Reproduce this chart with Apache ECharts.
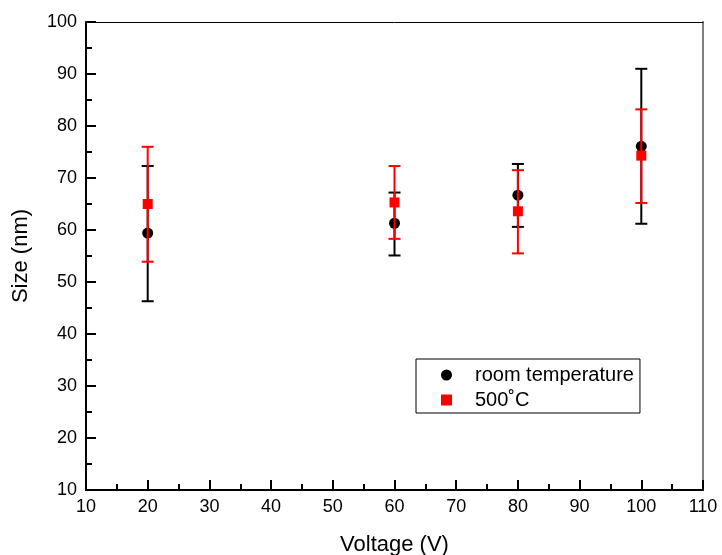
<!DOCTYPE html>
<html>
<head>
<meta charset="utf-8">
<script src="https://cdn.jsdelivr.net/npm/echarts@6/dist/echarts.min.js"></script>
<style>html,body{margin:0;padding:0;background:#fff;}#c{width:722px;height:555px;}</style>
</head>
<body>
<div id="c"></div>
<script>
var voltages = [20, 60, 80, 100];
var rtSize = [59.4, 61.3, 66.7, 76.1];
var rtLow  = [46.3, 55.1, 60.6, 61.2];
var rtHigh = [72.3, 67.2, 72.7, 91.0];
var hotSize = [65.0, 65.3, 63.6, 74.3];
var hotLow  = [53.9, 58.3, 55.5, 65.2];
var hotHigh = [76.0, 72.3, 71.5, 83.2];
var seriesNames = ['room temperature', '500\u02daC'];
var xTicks = [10, 110, 10];
var yTicks = [10, 100, 10];

var font = 'Liberation Sans, Arial, sans-serif';

function pts(xs, ys) { return xs.map(function (x, i) { return [x, ys[i]]; }); }
function errs(xs, lo, hi) { return xs.map(function (x, i) { return [x, lo[i], hi[i]]; }); }

function errRender(color) {
  return function (params, api) {
    var x = api.value(0);
    var lo = api.coord([x, api.value(1)]);
    var hi = api.coord([x, api.value(2)]);
    var hw = 6;
    var st = { stroke: color, lineWidth: 2 };
    return {
      type: 'group',
      children: [
        { type: 'line', shape: { x1: lo[0], y1: lo[1], x2: hi[0], y2: hi[1] }, style: st },
        { type: 'line', shape: { x1: lo[0] - hw, y1: lo[1], x2: lo[0] + hw, y2: lo[1] }, style: st },
        { type: 'line', shape: { x1: hi[0] - hw, y1: hi[1], x2: hi[0] + hw, y2: hi[1] }, style: st }
      ]
    };
  };
}

var chart = echarts.init(document.getElementById('c'), null, { renderer: 'canvas' });
chart.setOption({
  animation: false,
  backgroundColor: '#fff',
  grid: { left: 86, right: 19, top: 22, bottom: 65, containLabel: false, outerBoundsMode: 'none' },
  legend: {
    left: 416, top: 359, orient: 'vertical',
    data: [
      { name: seriesNames[0], icon: 'circle', itemStyle: { color: '#000' } },
      { name: seriesNames[1], icon: 'rect', itemStyle: { color: '#ff0000' } }
    ],
    itemWidth: 11, itemHeight: 11, itemGap: 5,
    borderColor: '#000', borderWidth: 1, borderRadius: 0,
    padding: [6, 6, 3, 25],
    textStyle: { fontFamily: font, fontSize: 20, color: '#000', padding: [0, 0, 0, 18] }
  },
  xAxis: [{
    type: 'value', min: xTicks[0], max: xTicks[1], interval: xTicks[2],
    name: 'Voltage (V)', nameLocation: 'middle', nameGap: 44,
    nameTextStyle: { fontFamily: font, fontSize: 22, color: '#000' },
    axisLine: { show: true, onZero: false, lineStyle: { color: '#000', width: 2 } },
    axisTick: { show: true, inside: true, length: 10, lineStyle: { color: '#000', width: 2 } },
    minorTick: { show: true, splitNumber: 2, length: 6, lineStyle: { color: '#000', width: 2 } },
    axisLabel: { fontFamily: font, fontSize: 18, color: '#000', margin: 8 },
    splitLine: { show: false }
  }, {
    type: 'value', position: 'top', min: xTicks[0], max: xTicks[1],
    axisLine: { show: true, onZero: false, lineStyle: { color: '#000', width: 1 } },
    axisTick: { show: false }, axisLabel: { show: false }, splitLine: { show: false }
  }],
  yAxis: [{
    type: 'value', min: yTicks[0], max: yTicks[1], interval: yTicks[2],
    name: 'Size (nm)', nameLocation: 'middle', nameGap: 54,
    nameTextStyle: { fontFamily: font, fontSize: 22, color: '#000' },
    axisLine: { show: true, onZero: false, lineStyle: { color: '#000', width: 2 } },
    axisTick: { show: true, inside: true, length: 10, lineStyle: { color: '#000', width: 2 } },
    minorTick: { show: true, splitNumber: 2, length: 6, lineStyle: { color: '#000', width: 2 } },
    axisLabel: { fontFamily: font, fontSize: 18, color: '#000', margin: 9 },
    splitLine: { show: false }
  }, {
    type: 'value', position: 'right', min: yTicks[0], max: yTicks[1],
    axisLine: { show: true, onZero: false, lineStyle: { color: '#808080', width: 2 } },
    axisTick: { show: false }, axisLabel: { show: false }, splitLine: { show: false }
  }],
  series: [
    {
      name: seriesNames[0] + ' err', type: 'custom', renderItem: errRender('#000'),
      data: errs(voltages, rtLow, rtHigh), z: 2, silent: true
    },
    {
      name: seriesNames[0], type: 'scatter', symbol: 'circle', symbolSize: 11,
      itemStyle: { color: '#000', opacity: 1 }, data: pts(voltages, rtSize), z: 3
    },
    {
      name: seriesNames[1] + ' err', type: 'custom', renderItem: errRender('#ff0000'),
      data: errs(voltages, hotLow, hotHigh), z: 4, silent: true
    },
    {
      name: seriesNames[1], type: 'scatter', symbol: 'rect', symbolSize: 10,
      itemStyle: { color: '#ff0000', opacity: 1 }, data: pts(voltages, hotSize), z: 5
    }
  ]
});
</script>
</body>
</html>
